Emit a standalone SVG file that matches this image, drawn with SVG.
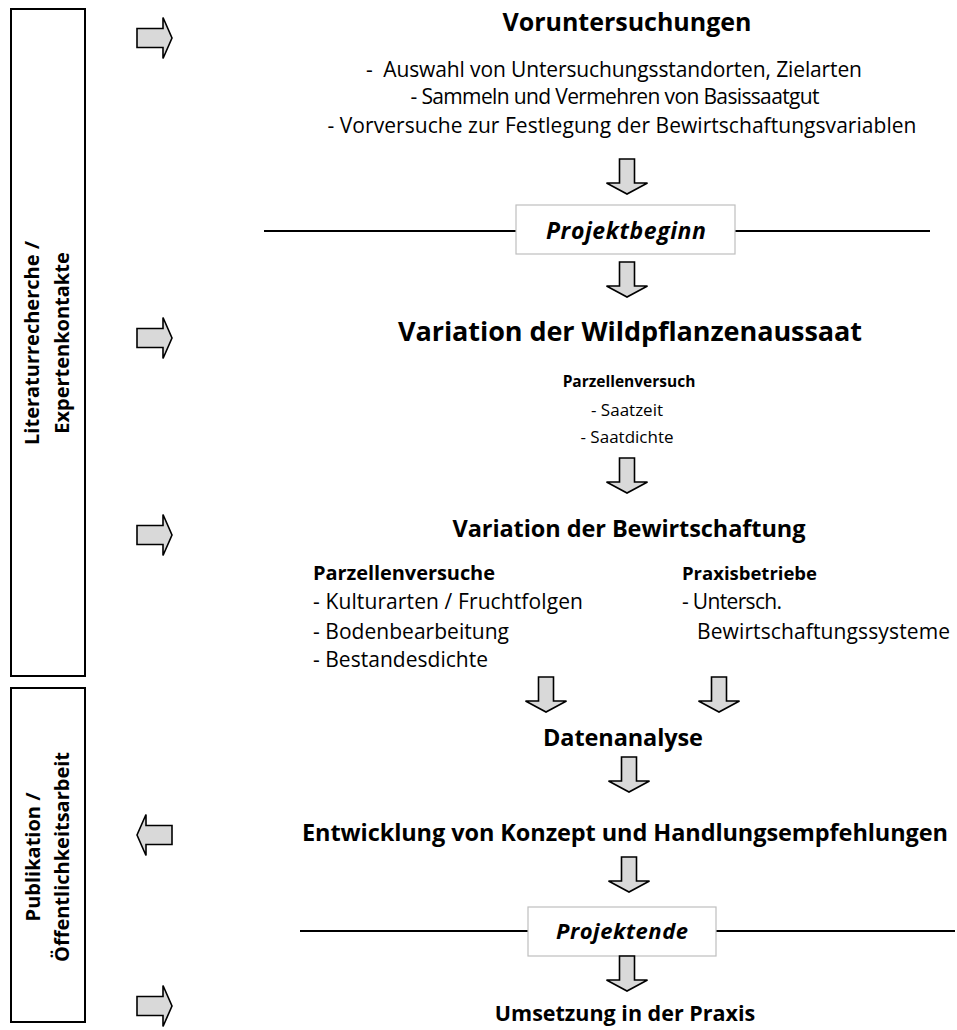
<svg xmlns="http://www.w3.org/2000/svg" width="957" height="1030" viewBox="0 0 957 1030">
<style>
text{font-family:"Open Sans","Liberation Sans",sans-serif;fill:#000;white-space:pre}
.h{font-weight:bold;font-size:25px;text-anchor:middle}
.b{font-size:21px;text-anchor:middle}
.bl{font-size:21px}
.bb{font-size:20px;font-weight:bold}
.s{font-size:17px;text-anchor:middle}
.sb{font-size:15.5px;font-weight:bold;text-anchor:middle}
.pi{font-size:23px;font-weight:bold;font-style:italic;text-anchor:middle}
.v{font-size:20px;font-weight:bold;text-anchor:middle}
.side{fill:none;stroke:#000;stroke-width:2}
.arr{fill:#d9d9d9;stroke:#000;stroke-width:1.6;stroke-linejoin:miter}
.ln{stroke:#000;stroke-width:2}
.pb{fill:#fff;stroke:#bfbfbf;stroke-width:1.2}
</style>
<defs>
<path id="ar" class="arr" d="M0,-9.5 H26 V-20.5 L35,0 L26,20.5 V9.5 H0 Z"/>
<path id="ad" class="arr" d="M-7.5,0 H7.5 V24 H20.5 L0,35 L-20.5,24 H-7.5 Z"/>
</defs>
<g id="side-literatur">
<rect class="side" x="11" y="9" width="74" height="667"/>
<text class="v" transform="translate(39,343) rotate(-90)">Literaturrecherche /</text>
<text class="v" transform="translate(69,343) rotate(-90)">Expertenkontakte</text>
</g>
<g id="side-publikation">
<rect class="side" x="11" y="688" width="74" height="334"/>
<text class="v" transform="translate(40,857) rotate(-90)">Publikation /</text>
<text class="v" transform="translate(69,857) rotate(-90)">Öffentlichkeitsarbeit</text>
</g>
<g id="voruntersuchungen">
<text class="h" x="627" y="31" textLength="249">Voruntersuchungen</text>
<text class="b" x="614" y="77" textLength="496">-  Auswahl von Untersuchungsstandorten, Zielarten</text>
<text class="b" x="615" y="104" textLength="409">- Sammeln und Vermehren von Basissaatgut</text>
<text class="b" x="622" y="133" textLength="589">- Vorversuche zur Festlegung der Bewirtschaftungsvariablen</text>
</g>
<g id="projektbeginn">
<line class="ln" x1="264" y1="231" x2="930" y2="231"/>
<rect class="pb" x="516" y="205" width="219" height="49"/>
<text class="pi" x="626" y="239" textLength="160">Projektbeginn</text>
</g>
<g id="wildpflanzenaussaat">
<text class="h" x="630" y="341" style="font-size:27px" textLength="464">Variation der Wildpflanzenaussaat</text>
<text class="sb" x="629" y="387">Parzellenversuch</text>
<text class="s" x="627" y="416">- Saatzeit</text>
<text class="s" x="627" y="443">- Saatdichte</text>
</g>
<g id="bewirtschaftung">
<text class="h" x="629" y="537" style="font-size:23.5px" textLength="353">Variation der Bewirtschaftung</text>
</g>
<g id="parzellenversuche">
<text class="bb" x="313" y="580" textLength="182">Parzellenversuche</text>
<text class="bl" x="313" y="609" textLength="270">- Kulturarten / Fruchtfolgen</text>
<text class="bl" x="313" y="639" textLength="196">- Bodenbearbeitung</text>
<text class="bl" x="313" y="667" textLength="175">- Bestandesdichte</text>
</g>
<g id="praxisbetriebe">
<text class="bb" x="682" y="580" style="font-size:18.5px">Praxisbetriebe</text>
<text class="bl" x="682" y="609" textLength="100">- Untersch.</text>
<text class="bl" x="697" y="639" textLength="253">Bewirtschaftungssysteme</text>
</g>
<g id="datenanalyse">
<text class="h" x="623" y="746" style="font-size:23.5px" textLength="160">Datenanalyse</text>
</g>
<g id="entwicklung">
<text class="h" x="625" y="841" style="font-size:23.5px" textLength="646">Entwicklung von Konzept und Handlungsempfehlungen</text>
</g>
<g id="projektende">
<line class="ln" x1="300" y1="931" x2="955" y2="931"/>
<rect class="pb" x="528" y="907" width="188" height="49"/>
<text class="pi" x="622" y="939" style="font-size:22px" textLength="132">Projektende</text>
</g>
<g id="umsetzung">
<text class="h" x="625" y="1021" style="font-size:21.5px">Umsetzung in der Praxis</text>
</g>
<g id="connectors">
<use href="#ar" transform="translate(137,38)"/>
<use href="#ar" transform="translate(137,338)"/>
<use href="#ar" transform="translate(137,535)"/>
<use href="#ar" transform="translate(172,835) scale(-1,1)"/>
<use href="#ar" transform="translate(137,1006)"/>
<use href="#ad" transform="translate(627,159)"/>
<use href="#ad" transform="translate(627,262)"/>
<use href="#ad" transform="translate(627,458)"/>
<use href="#ad" transform="translate(546,677)"/>
<use href="#ad" transform="translate(719,677)"/>
<use href="#ad" transform="translate(629,757)"/>
<use href="#ad" transform="translate(629,857)"/>
<use href="#ad" transform="translate(627,956)"/>
</g>
</svg>
